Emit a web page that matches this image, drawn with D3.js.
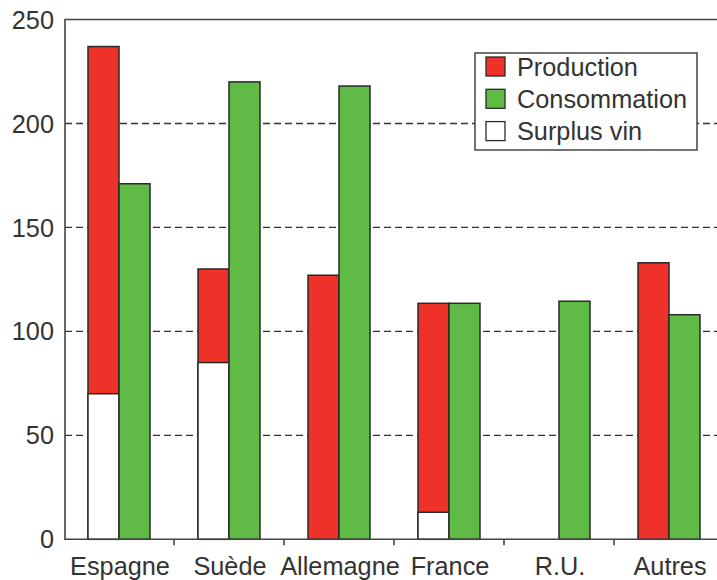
<!DOCTYPE html>
<html lang="fr">
<head>
  <meta charset="utf-8">
  <title>Vin</title>
  <script src="https://d3js.org/d3.v7.min.js"></script>
  <style>
    body { margin: 0; background: #fff; }
    text { font-family: "Liberation Sans", Arial, sans-serif; fill: #333; }
  </style>
</head>
<body>
<script type="text/javascript">
  var categories = ["Espagne", "Suède", "Allemagne", "France", "R.U.", "Autres"];
  var production = [237, 130, 127, 113.5, 0, 133];
  var consommation = [171, 220, 218, 113.5, 114.5, 108];
  var surplus = [70, 85, 0, 13, 0, 0];
  var yTicks = [0, 50, 100, 150, 200, 250];
  var legendItems = ["Production", "Consommation", "Surplus vin"];

  var w = 717;
  var h = 580;
  var pLeft = 65, pTop = 19.5, pRight = 724, pBottom = 539.3;
  var barW = 31;
  var red = "#ee3129", green = "#5fba46", stroke = "#2a2a2a";
  var fs = "25.3px";

  var svg = d3.select("body")
    .append("svg")
    .attr("width", w)
    .attr("height", h);

  var x = d3.scaleBand().domain(categories).range([64, 724]).padding(0);
  var sub = d3.scaleBand().domain(["p", "c"]).range([-barW, barW]);
  var y = d3.scaleLinear().domain([0, 250]).range([pBottom, pTop]);

  // dashed grid
  svg.selectAll(".grid")
    .data(yTicks.filter(function(d){ return d > 0 && d < 250; }))
    .enter()
    .append("line")
    .attr("x1", pLeft).attr("x2", pRight)
    .attr("y1", function(d){ return y(d); })
    .attr("y2", function(d){ return y(d); })
    .attr("stroke", "#333")
    .attr("stroke-width", 1.4)
    .attr("stroke-dasharray", "7,4");

  function cx(c){ return x(c) + x.bandwidth() / 2; }

  var rows = categories.map(function(c, i){
    return {cat: c, p: production[i], c: consommation[i], s: surplus[i]};
  });

  // production
  svg.selectAll(".prod")
    .data(rows.filter(function(d){ return d.p > 0; }))
    .enter()
    .append("rect")
    .attr("x", function(d){ return cx(d.cat) + sub("p"); })
    .attr("y", function(d){ return y(d.p); })
    .attr("width", sub.bandwidth())
    .attr("height", function(d){ return y(0) - y(d.p); })
    .attr("fill", red)
    .attr("stroke", stroke)
    .attr("stroke-width", 1.5);

  // surplus, drawn over the production bar
  svg.selectAll(".surp")
    .data(rows.filter(function(d){ return d.s > 0; }))
    .enter()
    .append("rect")
    .attr("x", function(d){ return cx(d.cat) + sub("p"); })
    .attr("y", function(d){ return y(d.s); })
    .attr("width", sub.bandwidth())
    .attr("height", function(d){ return y(0) - y(d.s); })
    .attr("fill", "#fff")
    .attr("stroke", stroke)
    .attr("stroke-width", 1.5);

  // consommation
  svg.selectAll(".cons")
    .data(rows.filter(function(d){ return d.c > 0; }))
    .enter()
    .append("rect")
    .attr("x", function(d){ return cx(d.cat) + sub("c"); })
    .attr("y", function(d){ return y(d.c); })
    .attr("width", sub.bandwidth())
    .attr("height", function(d){ return y(0) - y(d.c); })
    .attr("fill", green)
    .attr("stroke", stroke)
    .attr("stroke-width", 1.5);

  // frame
  svg.append("path")
    .attr("d", "M" + pRight + "," + pTop + "H" + pLeft + "V" + pBottom + "H" + pRight)
    .attr("fill", "none")
    .attr("stroke", "#444")
    .attr("stroke-width", 1.6);

  // x ticks between categories
  svg.selectAll(".xt")
    .data(categories.slice(1))
    .enter()
    .append("line")
    .attr("x1", function(d){ return x(d); })
    .attr("x2", function(d){ return x(d); })
    .attr("y1", pBottom)
    .attr("y2", pBottom + 6)
    .attr("stroke", "#444")
    .attr("stroke-width", 1.6);

  svg.selectAll(".xl")
    .data(categories)
    .enter()
    .append("text")
    .text(function(d){ return d; })
    .attr("x", function(d){ return cx(d) + 1; })
    .attr("y", 575)
    .attr("text-anchor", "middle")
    .attr("font-size", fs);

  svg.selectAll(".yl")
    .data(yTicks)
    .enter()
    .append("text")
    .text(function(d){ return d; })
    .attr("x", 54)
    .attr("y", function(d){ return y(d); })
    .attr("dy", "0.36em")
    .attr("text-anchor", "end")
    .attr("font-size", fs);

  // legend
  var lg = svg.append("g").attr("transform", "translate(475,53)");
  lg.append("rect")
    .attr("width", 222).attr("height", 97)
    .attr("fill", "#fff")
    .attr("stroke", "#444")
    .attr("stroke-width", 1.5);
  var lc = [red, green, "#fff"];
  legendItems.forEach(function(name, i){
    lg.append("rect")
      .attr("x", 11).attr("y", 4 + i * 32.3)
      .attr("width", 19).attr("height", 19)
      .attr("fill", lc[i])
      .attr("stroke", stroke)
      .attr("stroke-width", 1.3);
    lg.append("text")
      .text(name)
      .attr("x", 42)
      .attr("y", 13.5 + i * 32.3)
      .attr("dy", "0.36em")
      .attr("font-size", fs);
  });
</script>
</body>
</html>
